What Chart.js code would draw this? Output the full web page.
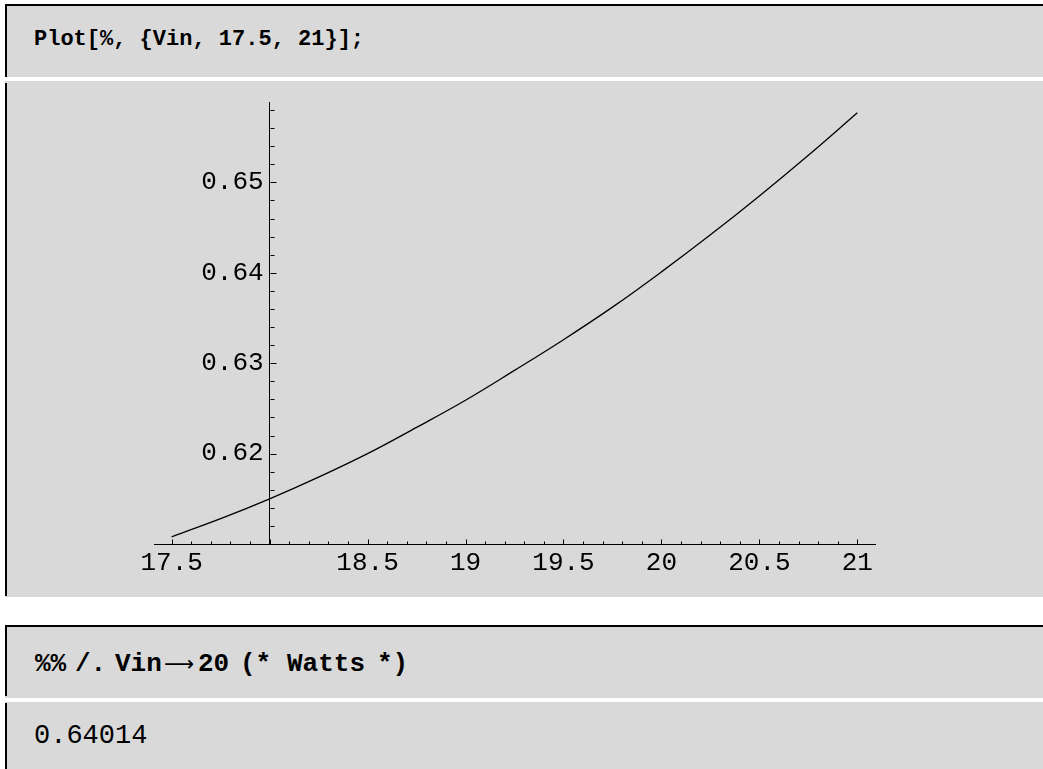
<!DOCTYPE html>
<html>
<head>
<meta charset="utf-8">
<title>Plot of efficiency versus Vin</title>
<script src="https://cdn.jsdelivr.net/npm/chart.js@4.4.1/dist/chart.umd.min.js"></script>
<style>
  html, body { margin: 0; padding: 0; background: #fff; }
  #page { position: relative; width: 1043px; height: 769px; overflow: hidden; background: #fff; }
  .cell { position: absolute; left: 5px; right: 0; background: #d9d9d9; }
  .cell.input { border-top: 2px solid #000; }
  .cell .bracket { position: absolute; left: 0; width: 2px; background: #000; }
  .code { position: absolute; font-family: "Liberation Mono", "DejaVu Sans Mono", monospace;
          font-size: 26px; line-height: 30px; white-space: pre; color: #000; }
  .code.bold { font-weight: bold; }
  .tok { position: absolute; top: 0; }
  .arrow { font-family: "DejaVu Sans", sans-serif; font-weight: normal; font-size: 21px; }
  #plot { position: absolute; left: 0; top: 0; }
</style>
</head>
<body>
<div id="page">
  <div class="cell input" style="top:4px; height:71px;">
    <div class="bracket" style="top:-2px; height:73px;"></div>
    <div class="code bold" style="left:29px; top:19px; font-size:22px;">Plot[%, {Vin, 17.5, 21}];</div>
  </div>
  <div class="cell" style="top:81px; height:516px;">
    <div class="bracket" style="top:2px; height:513px;"></div>
  </div>
  <div class="cell input" style="top:625px; height:71px;">
    <div class="bracket" style="top:-2px; height:71px;"></div>
    <div class="code bold" style="left:0; top:22px; width:600px; height:30px;">
      <span class="tok" style="left:30px;">%%</span><span class="tok" style="left:70px;">/.</span><span class="tok" style="left:110px;">Vin</span><span class="tok arrow" style="left:159px;">⟶</span><span class="tok" style="left:193px;">20</span><span class="tok" style="left:235px;">(*</span><span class="tok" style="left:282px;">Watts</span><span class="tok" style="left:372px;">*)</span>
    </div>
  </div>
  <div class="cell" style="top:702px; height:80px;">
    <div class="bracket" style="top:1px; height:80px;"></div>
    <div class="code" style="left:29px; top:19px; font-size:27px;">0.64014</div>
  </div>
  <canvas id="plot" width="1043" height="769"></canvas>
</div>

<script>
// Input voltage samples and the corresponding efficiency values
const vin = [17.5, 17.75, 18.0, 18.25, 18.5, 18.75, 19.0, 19.25, 19.5, 19.75, 20.0, 20.25, 20.5, 20.75, 21.0];
const efficiency = [0.6108, 0.6128, 0.6150, 0.6174, 0.6200, 0.6229, 0.6259, 0.6292, 0.6326, 0.6362, 0.6401, 0.6442, 0.6485, 0.6530, 0.6577];

// Labelled ticks on each axis
const xTickValues = [17.5, 18.5, 19, 19.5, 20, 20.5, 21];
const yTickValues = [0.62, 0.63, 0.64, 0.65];

const tickFont = { family: "'Liberation Mono', 'DejaVu Sans Mono', monospace", size: 26 };

// Mathematica-style tick marks: drawn inward from each axis, with minor ticks between labels
const inwardTicks = {
  id: 'inwardTicks',
  beforeDraw(chart) {
    // keep the y labels a little clear of the axis line
    const items = chart.scales.y.getLabelItems();
    items.forEach(it => { it.options.translation[0] -= 6; });
  },
  afterDraw(chart) {
    const { ctx, scales: { x, y } } = chart;
    const axisX = Math.round(x.getPixelForValue(18)) + 0.5;
    const axisY = Math.round(y.getPixelForValue(0.61)) + 0.5;
    ctx.save();
    ctx.strokeStyle = '#000';
    ctx.lineWidth = 1;
    ctx.beginPath();
    for (let k = 0; k <= 35; k++) {
      const v = 17.5 + k * 0.1;
      const px = Math.round(x.getPixelForValue(v)) + 0.5;
      const len = k % 5 === 0 ? 5 : 3;
      ctx.moveTo(px, axisY);
      ctx.lineTo(px, axisY - len);
    }
    for (let k = 0; k <= 23; k++) {
      const v = 0.612 + k * 0.002;
      const py = Math.round(y.getPixelForValue(v)) + 0.5;
      const len = (k + 1) % 5 === 0 ? 6 : 4;
      ctx.moveTo(axisX, py);
      ctx.lineTo(axisX + len, py);
    }
    ctx.stroke();
    ctx.restore();
  }
};

new Chart(document.getElementById('plot'), {
  type: 'line',
  data: {
    datasets: [{
      data: vin.map((v, i) => ({ x: v, y: efficiency[i] })),
      borderColor: '#000',
      borderWidth: 1.3,
      pointRadius: 0,
      fill: false,
      tension: 0.4
    }]
  },
  options: {
    responsive: false,
    animation: false,
    devicePixelRatio: 1,
    layout: { padding: { left: 154, right: 168, top: 102, bottom: 185 } },
    plugins: { legend: { display: false }, title: { display: false }, tooltip: { enabled: false } },
    scales: {
      x: {
        type: 'linear',
        position: 'bottom',
        min: 17.41,
        max: 21.09,
        afterBuildTicks: s => { s.ticks = xTickValues.map(v => ({ value: v })); },
        afterFit: s => { s.height = 40; },
        grid: { drawOnChartArea: false, drawTicks: false },
        border: { display: true, color: '#000', width: 1 },
        ticks: { color: '#000', font: tickFont, padding: 4, autoSkip: false, maxRotation: 0,
                 callback: v => String(v) }
      },
      y: {
        type: 'linear',
        position: { x: 18 },
        min: 0.61,
        max: 0.65889,
        afterBuildTicks: s => { s.ticks = yTickValues.map(v => ({ value: v })); },
        grid: { drawOnChartArea: false, drawTicks: false },
        border: { display: true, color: '#000', width: 1 },
        ticks: { color: '#000', font: tickFont, autoSkip: false,
                 callback: v => v.toFixed(2) }
      }
    }
  },
  plugins: [inwardTicks]
});
</script>
</body>
</html>
